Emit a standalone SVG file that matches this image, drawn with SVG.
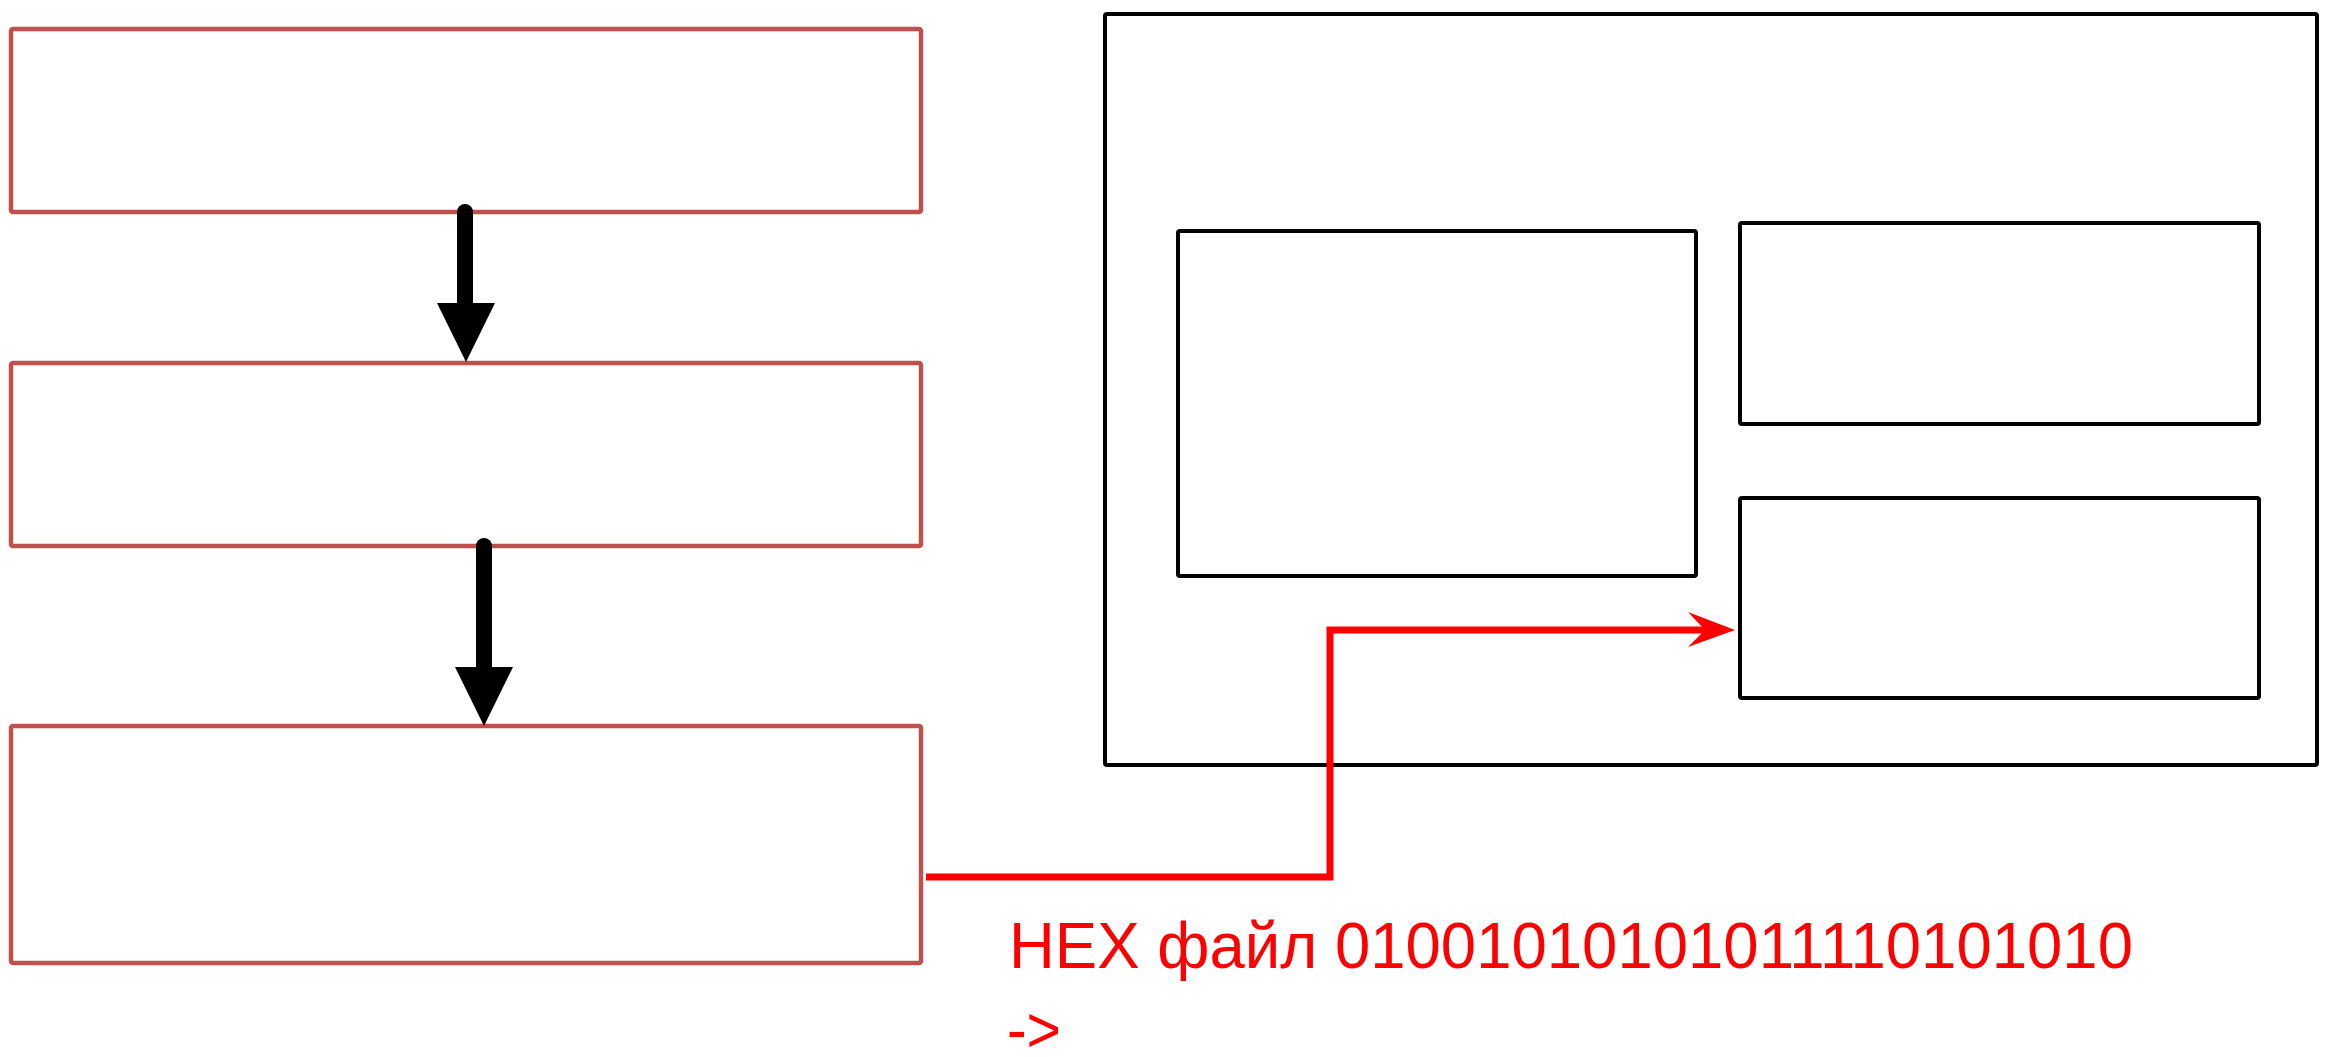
<svg xmlns="http://www.w3.org/2000/svg" width="2328" height="1057" viewBox="0 0 2328 1057">
<style>
.rbox{fill:none;stroke:#c0504d;stroke-width:4.5;stroke-linejoin:round}
.kbox{fill:none;stroke:#000;stroke-width:4;stroke-linejoin:round}
.shaft{stroke:#000;stroke-width:16;stroke-linecap:round;fill:none}
.red{fill:#ff0000;font-family:"Liberation Sans",Arial,sans-serif;font-size:65px}
</style>
<rect width="2328" height="1057" fill="#fff"/>
<g id="step1"><rect class="rbox" x="11" y="29" width="910" height="183" rx="2"/></g>
<g id="step2"><rect class="rbox" x="11" y="363" width="910" height="183" rx="2"/></g>
<g id="step3"><rect class="rbox" x="11" y="726" width="910" height="237" rx="2"/></g>
<g id="device"><rect class="kbox" x="1105" y="14" width="1212" height="751" rx="2"/></g>
<g id="blockA"><rect class="kbox" x="1178" y="231" width="518" height="345" rx="2"/></g>
<g id="blockB"><rect class="kbox" x="1740" y="223" width="519" height="201" rx="2"/></g>
<g id="blockC"><rect class="kbox" x="1740" y="498" width="519" height="200" rx="2"/></g>
<g id="connectors">
<line class="shaft" x1="465" y1="212" x2="465" y2="306"/>
<polygon points="437,303 495,303 466,362"/>
<line class="shaft" x1="484" y1="546" x2="484" y2="670"/>
<polygon points="455,667 513,667 484,726"/>
<polyline points="926,877 1330,877 1330,630 1706,630" fill="none" stroke="#ff0000" stroke-width="7"/>
<polygon points="1735,630 1688,612 1705,630 1688,647" fill="#ff0000"/>
</g>
<g id="label">
<text class="red" x="1009" y="968" textLength="1124" lengthAdjust="spacingAndGlyphs">HEX файл 01001010101011110101010</text>
<text class="red" x="1007" y="1052" textLength="54" lengthAdjust="spacingAndGlyphs">-&gt;</text>
</g>
</svg>
